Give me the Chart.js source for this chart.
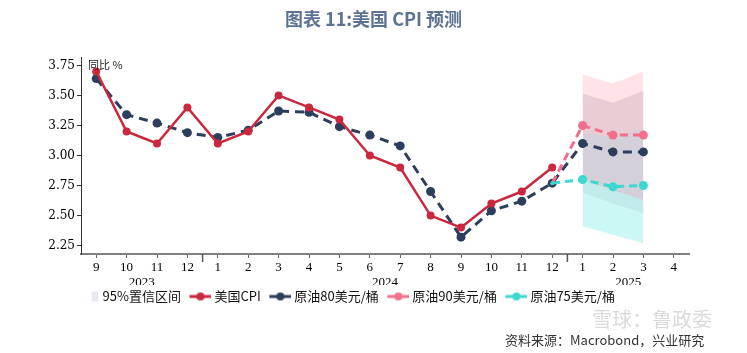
<!DOCTYPE html>
<html>
<head>
<meta charset="utf-8">
<script src="https://cdn.jsdelivr.net/npm/chart.js@4.4.1/dist/chart.umd.min.js"></script>
<style>
  html, body { margin: 0; padding: 0; background: #fff; }
  #wrap { position: relative; width: 747px; height: 353px; overflow: hidden; }
  #wrap canvas { position: absolute; left: 0; top: 0; }
  .title { position: absolute; left: 0; top: 5px; width: 747px; text-align: center;
           font: bold 18px "Noto Sans CJK SC", sans-serif; color: #5c7292; }
  .unit { position: absolute; left: 88px; top: 56px; font: 11px "Noto Sans CJK SC", sans-serif; color: #222; }
  .mark { position: absolute; left: 592px; top: 309px; font: 20px/20px "Noto Sans CJK SC", sans-serif; color: rgba(150,150,150,0.35); }
  .source { position: absolute; left: 505px; top: 333px; font: 13px/13px "Noto Sans CJK SC", sans-serif; color: #333; }
</style>
</head>
<body>
<div id="wrap">
  <canvas id="cpiChart" width="747" height="353"></canvas>
  <div class="title">图表 11:美国 CPI 预测</div>
  <div class="unit">同比 %</div>
  <div class="mark">雪球：鲁政委</div>
  <div class="source">资料来源：Macrobond，兴业研究</div>
</div>
<script>
// x axis: months, grouped by year underneath
const months = ['9', '10', '11', '12', '1', '2', '3', '4', '5', '6', '7', '8', '9', '10', '11', '12', '1', '2', '3', '4'];
const years = ['2023', '2024', '2025'];
const yTicks = [2.25, 2.5, 2.75, 3.0, 3.25, 3.5, 3.75];

// YoY %, one value per month
const cpi   = [3.7, 3.2, 3.1, 3.4, 3.1, 3.2, 3.5, 3.4, 3.3, 3.0, 2.9, 2.5, 2.4, 2.6, 2.7, 2.9, null, null, null, null];
const oil80 = [3.64, 3.34, 3.27, 3.19, 3.15, 3.21, 3.37, 3.36, 3.24, 3.17, 3.08, 2.70, 2.32, 2.54, 2.62, 2.77, 3.10, 3.03, 3.03, null];
const oil90 = [null, null, null, null, null, null, null, null, null, null, null, null, null, null, null, 2.77, 3.25, 3.17, 3.17, null];
const oil75 = [null, null, null, null, null, null, null, null, null, null, null, null, null, null, null, 2.77, 2.80, 2.74, 2.75, null];

// 95% confidence bands, Jan-Mar 2025
const band90Hi = [null, null, null, null, null, null, null, null, null, null, null, null, null, null, null, null, 3.675, 3.60, 3.70, null];
const band90Lo = [null, null, null, null, null, null, null, null, null, null, null, null, null, null, null, null, 3.19, 3.15, 3.225, null];
const band80Hi = [null, null, null, null, null, null, null, null, null, null, null, null, null, null, null, null, 3.515, 3.44, 3.54, null];
const band80Lo = [null, null, null, null, null, null, null, null, null, null, null, null, null, null, null, null, 2.69, 2.60, 2.52, null];
const band75Hi = [null, null, null, null, null, null, null, null, null, null, null, null, null, null, null, null, 2.80, 2.71, 2.63, null];
const band75Lo = [null, null, null, null, null, null, null, null, null, null, null, null, null, null, null, null, 2.41, 2.34, 2.27, null];

const RED = '#c9283e';
const NAVY = '#2d3e5c';
const PINK = '#f2708c';
const CYAN = '#3dd8cf';

// year groups come from where the month label restarts at 1
const yearStarts = months.map((m, i) => (m === '1' ? i : -1)).filter(i => i > 0);
const bounds = [0, ...yearStarts, months.length];
const yearCenters = years.map((_, i) => (bounds[i] + bounds[i + 1] - 1) / 2);

function bandPair(hi, lo, color, order) {
    return [
        { data: hi, borderColor: 'transparent', borderWidth: 0, pointRadius: 0, fill: false, order: order },
        { data: lo, borderColor: 'transparent', borderWidth: 0, pointRadius: 0, fill: '-1', backgroundColor: color, order: order }
    ];
}

// scenario lines start from the last actual point; keep that joint point small
function jointRadius(series, small, normal) {
    const joint = series.findIndex(v => v !== null);
    return ctx => (ctx.dataIndex === joint ? small : normal);
}

function legendIcon(color, box) {
    const c = document.createElement('canvas');
    c.width = 29; c.height = 12;
    const g = c.getContext('2d');
    if (box) {
        g.fillStyle = color;
        g.fillRect(21, 1, 7, 10);
    } else {
        g.strokeStyle = color;
        g.lineWidth = 3;
        g.beginPath(); g.moveTo(7, 6); g.lineTo(29, 6); g.stroke();
        g.fillStyle = color;
        g.beginPath(); g.arc(18, 6, 4, 0, Math.PI * 2); g.fill();
    }
    return c;
}

const legendItems = [
    { text: '95%置信区间', icon: legendIcon('#e6ebf3', true) },
    { text: '美国CPI', icon: legendIcon(RED) },
    { text: '原油80美元/桶', icon: legendIcon(NAVY) },
    { text: '原油90美元/桶', icon: legendIcon(PINK) },
    { text: '原油75美元/桶', icon: legendIcon(CYAN) }
];

// longer ticks where a new year starts
const yearTicks = {
    id: 'yearTicks',
    afterDraw(chart) {
        const { ctx, chartArea } = chart;
        const x = chart.scales.x;
        ctx.save();
        ctx.strokeStyle = '#555';
        ctx.lineWidth = 1.5;
        yearStarts.forEach(i => {
            const px = (x.getPixelForValue(i - 1) + x.getPixelForValue(i)) / 2;
            ctx.beginPath();
            ctx.moveTo(px, chartArea.bottom);
            ctx.lineTo(px, chartArea.bottom + 8);
            ctx.stroke();
        });
        ctx.restore();
    }
};

const serif = { family: 'Liberation Serif', size: 13 };

new Chart(document.getElementById('cpiChart'), {
    type: 'line',
    data: {
        labels: months,
        datasets: [
            ...bandPair(band80Hi, band80Lo, 'rgba(205,200,212,0.85)', 12),
            ...bandPair(band90Hi, band90Lo, 'rgba(255,200,208,0.5)', 11),
            ...bandPair(band75Hi, band75Lo, 'rgba(185,244,240,0.75)', 10),
            {
                label: '原油80美元/桶', data: oil80, borderColor: NAVY, backgroundColor: NAVY,
                borderWidth: 3, borderDash: [9, 6], pointRadius: 4.5, pointBorderWidth: 0, order: 3
            },
            {
                label: '美国CPI', data: cpi, borderColor: RED, backgroundColor: RED,
                borderWidth: 2.5, pointRadius: 4, pointBorderWidth: 0, order: 2
            },
            {
                label: '原油90美元/桶', data: oil90, borderColor: PINK, backgroundColor: PINK,
                borderWidth: 3, borderDash: [8, 5], pointRadius: jointRadius(oil90, 0, 4.5), pointBorderWidth: 0, order: 1
            },
            {
                label: '原油75美元/桶', data: oil75, borderColor: CYAN, backgroundColor: CYAN,
                borderWidth: 3, borderDash: [8, 5], pointRadius: jointRadius(oil75, 2, 4.5), pointBorderWidth: 0, order: 0
            }
        ]
    },
    options: {
        responsive: false,
        animation: false,
        events: [],
        layout: { padding: { left: 0, right: 58, top: 57, bottom: 40 } },
        plugins: {
            tooltip: { enabled: false },
            legend: {
                position: 'bottom',
                labels: {
                    usePointStyle: true,
                    pointStyleWidth: 22,
                    padding: 5,
                    color: '#111',
                    font: { family: 'Noto Sans CJK SC', size: 13 },
                    generateLabels: () => legendItems.map(it => ({
                        text: it.text, pointStyle: it.icon, fontColor: '#111',
                        fillStyle: 'transparent', strokeStyle: 'transparent', lineWidth: 0, hidden: false
                    }))
                }
            }
        },
        scales: {
            x: {
                offset: true,
                grid: { drawOnChartArea: false, tickLength: 4, tickColor: '#666' },
                border: { color: '#808080', width: 2 },
                ticks: { color: '#000', font: serif, padding: 2, maxRotation: 0, autoSkip: false },
                afterFit: s => { s.height = 21; }
            },
            x2: {
                type: 'linear',
                position: 'bottom',
                weight: 1,
                min: -0.5,
                max: months.length - 0.5,
                grid: { display: false, drawTicks: false },
                border: { display: false },
                afterBuildTicks: s => { s.ticks = yearCenters.map(v => ({ value: v })); },
                ticks: { callback: (v, i) => years[i], color: '#000', font: serif, padding: 0, maxRotation: 0, autoSkip: false },
                afterFit: s => { s.height = 10; }
            },
            y: {
                min: 2.18,
                max: 3.82,
                afterBuildTicks: s => { s.ticks = yTicks.map(v => ({ value: v })); },
                grid: { drawOnChartArea: false, tickLength: 4, tickColor: '#333' },
                border: { color: '#333', width: 1 },
                ticks: { callback: v => v.toFixed(2), color: '#000', font: { family: 'DejaVu Serif', size: 12 }, padding: 2 },
                afterFit: s => { s.width = 81; }
            }
        }
    },
    plugins: [yearTicks]
});
</script>
</body>
</html>
